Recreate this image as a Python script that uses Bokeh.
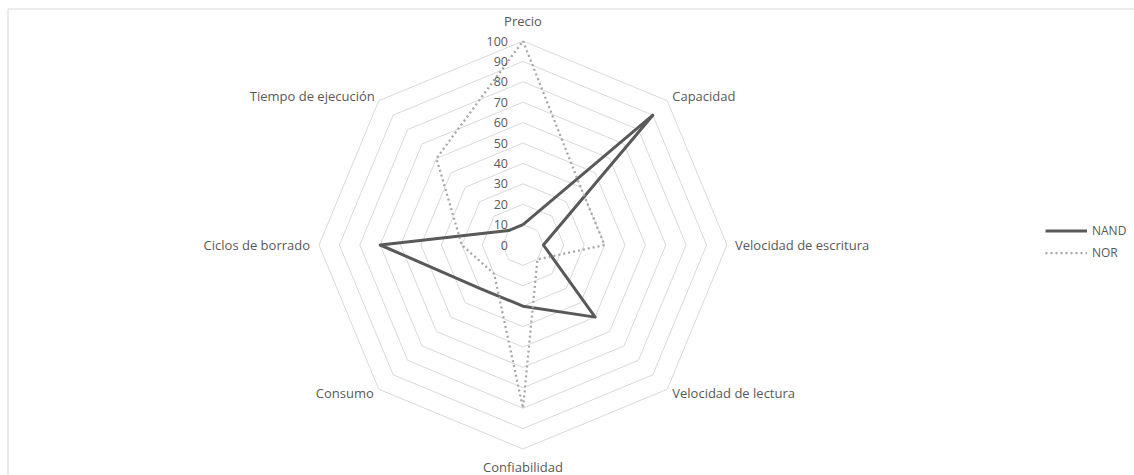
import numpy as np
from bokeh.plotting import figure
from bokeh.models import ColumnDataSource, Range1d, Legend, LegendItem
from bokeh.core.properties import value
from bokeh.embed import file_html
from bokeh.resources import INLINE

# ---- data -------------------------------------------------------------
categories = ["Precio", "Capacidad", "Velocidad de escritura", "Velocidad de lectura",
              "Confiabilidad", "Consumo", "Ciclos de borrado", "Tiempo de ejecución"]
nand = [10, 90, 10, 50, 30, 30, 70, 10]
nor = [100, 40, 40, 10, 80, 20, 30, 60]
ring_values = [10, 20, 30, 40, 50, 60, 70, 80, 90, 100]
tick_values = [0, 10, 20, 30, 40, 50, 60, 70, 80, 90, 100]
tick_labels = [str(t) for t in tick_values]

# ---- layout -----------------------------------------------------------
W, H = 1134, 475
PX = 2.04            # pixels per radial unit
CX, CY = 522.5, 244.5  # centre of the radar, in page pixels
FONT = "Open Sans"
TXT = "#595959"

n = len(categories)
ang = np.deg2rad(90 - 45 * np.arange(n))  # clockwise from the top
cos_a, sin_a = np.cos(ang), np.sin(ang)


def closed(vals):
    v = np.asarray(vals, dtype=float)
    xs = v * cos_a
    ys = v * sin_a
    return list(xs) + [xs[0]], list(ys) + [ys[0]]


p = figure(width=W, height=H,
           x_range=Range1d(-CX / PX, (W - CX) / PX),
           y_range=Range1d(-(H - CY) / PX, CY / PX),
           x_axis_type=None, y_axis_type=None,
           output_backend="svg", toolbar_location=None,
           min_border=0, outline_line_color=None)
p.grid.visible = False
p.background_fill_color = "white"
p.border_fill_color = "white"

# chart area frame (top and left edges)
x_left = (7.5 - CX) / PX
y_top = (CY - 8.5) / PX
p.line([x_left, x_left], [-(H - CY) / PX, y_top], line_color="#d9d9d9", line_width=1)
p.line([x_left, (W - CX) / PX], [y_top, y_top], line_color="#d9d9d9", line_width=1)

# octagonal grid rings
ring_xs, ring_ys = [], []
for r in ring_values:
    xs, ys = closed([r] * n)
    ring_xs.append(xs)
    ring_ys.append(ys)
p.multi_line(ring_xs, ring_ys, line_color="#d9d9d9", line_width=1)

# series
nx, ny = closed(nand)
ox, oy = closed(nor)
r_nand = p.line(nx, ny, line_color="#595959", line_width=3, line_join="round")
r_nor = p.line(ox, oy, line_color="#a5a5a5", line_width=2.25, line_dash="2 3")

# radial tick labels along the top spoke
p.text(x=[0] * len(tick_values), y=tick_values, text=tick_labels,
       x_offset=-15, text_align="right", text_baseline="middle",
       text_font=value(FONT), text_font_size="12.5px", text_color=TXT)

# category labels just outside the outer ring
x_off = [0, 5, 8, 5, 0, -5, -9, -4]
y_off = [-20, -5, 0, 4, 18, 4, 0, -5]
align = ["center", "left", "left", "left", "center", "right", "right", "right"]
lab = ColumnDataSource(dict(x=list(100 * cos_a), y=list(100 * sin_a), text=categories,
                            xo=x_off, yo=y_off, al=align))
p.text(x="x", y="y", text="text", x_offset="xo", y_offset="yo", text_align="al",
       text_baseline="middle", source=lab,
       text_font=value(FONT), text_font_size="13px", text_color=TXT)

legend = Legend(items=[LegendItem(label="NAND", renderers=[r_nand]),
                       LegendItem(label="NOR", renderers=[r_nor])],
                location=(1045, H - 262), glyph_width=42, glyph_height=19,
                label_height=19, spacing=3, padding=0, margin=0,
                border_line_color=None, background_fill_alpha=0,
                label_text_font=FONT, label_text_font_size="12px",
                label_text_color=TXT, label_standoff=5)
p.add_layout(legend, "center")

open("out.html", "w").write(file_html(p, INLINE))
